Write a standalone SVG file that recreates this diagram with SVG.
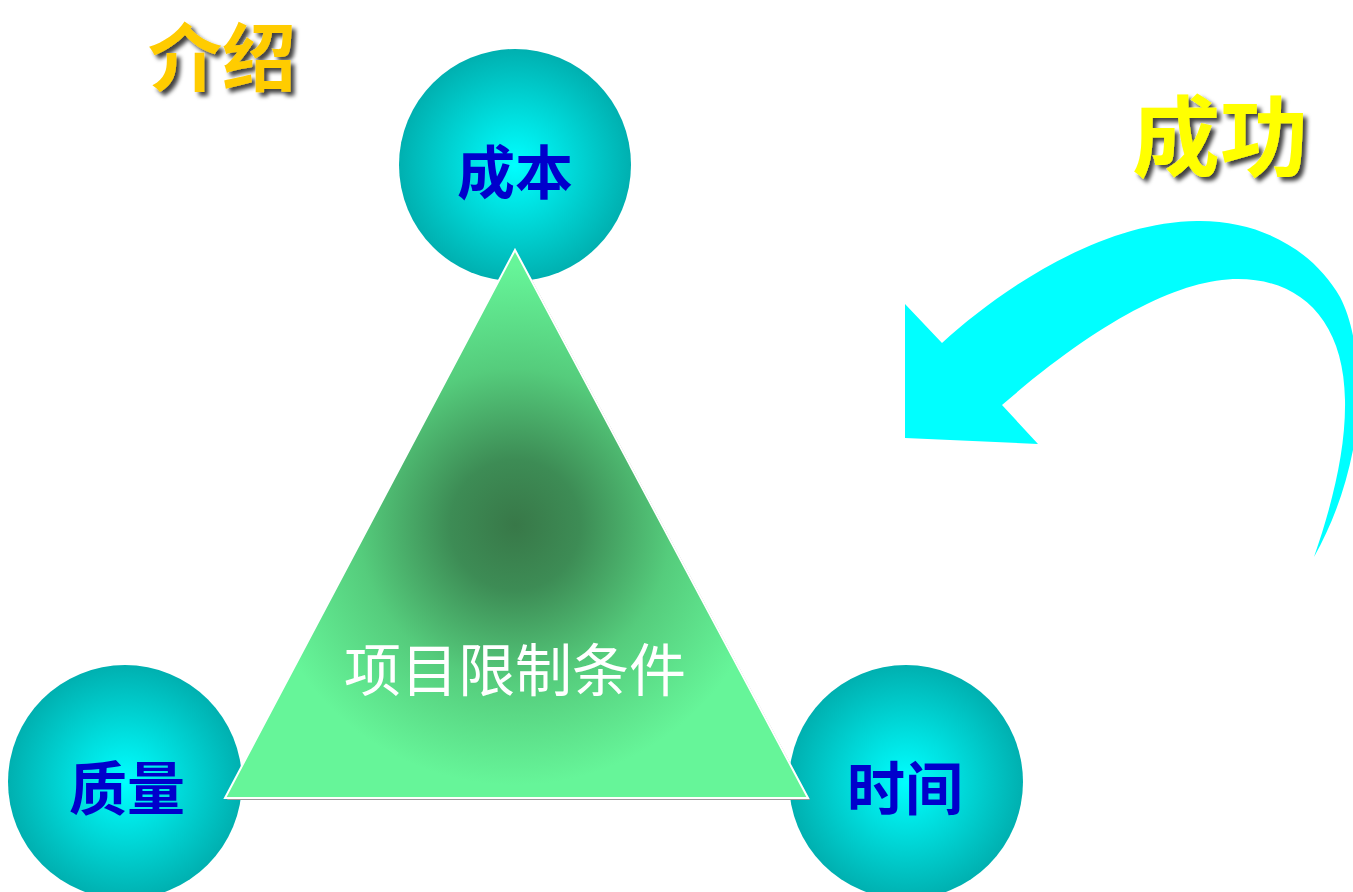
<svg xmlns="http://www.w3.org/2000/svg" width="1353" height="892" viewBox="0 0 1353 892">
<style>
.lbl{font-family:"Noto Sans CJK SC","Noto Sans CJK JP",sans-serif;text-anchor:middle;dominant-baseline:central}
.node{font-size:58px;font-weight:bold;fill:#0000cc}
.title{font-weight:bold}
</style>
<defs>
<radialGradient id="ball" cx="0.5" cy="0.5" r="0.5">
<stop offset="0" stop-color="#00ffff"/>
<stop offset="0.4" stop-color="#00e0e0"/>
<stop offset="1" stop-color="#00b0b0"/>
</radialGradient>
<radialGradient id="tri" gradientUnits="userSpaceOnUse" cx="515" cy="525" r="260">
<stop offset="0" stop-color="#387848"/>
<stop offset="0.25" stop-color="#3d8c55"/>
<stop offset="0.6" stop-color="#55cc7c"/>
<stop offset="1" stop-color="#66f599"/>
</radialGradient>
<filter id="shadow" x="-20%" y="-20%" width="150%" height="150%">
<feDropShadow dx="4" dy="4" stdDeviation="2" flood-color="#000" flood-opacity="0.75"/>
</filter>
</defs>
<rect width="1353" height="892" fill="#fff"/>

<g id="arrow">
<path d="M905,304 L942,343 C1000,290 1100,222 1197,221 C1260,220 1313,250 1340,297 C1360,335 1362,400 1353,450 C1345,490 1332,525 1314,557 C1332,505 1346,450 1345,400 C1344,320 1300,279 1238,279 C1180,279 1100,320 1002,405 L1038,444 L905,438 Z" fill="#00ffff"/>
</g>

<g id="title-intro"><text class="lbl title" x="222" y="52" font-size="74" fill="#ffcc00" filter="url(#shadow)">介绍</text></g>
<g id="title-success"><text class="lbl title" x="1220" y="130" font-size="88" fill="#ffff00" filter="url(#shadow)">成功</text></g>

<g id="node-cost">
<circle cx="515" cy="165" r="116" fill="url(#ball)"/>
<text class="lbl node" x="515" y="169">成本</text>
</g>
<g id="node-quality">
<circle cx="125" cy="782" r="117" fill="url(#ball)"/>
<text class="lbl node" x="127" y="785">质量</text>
</g>
<g id="node-time">
<circle cx="906" cy="782" r="117" fill="url(#ball)"/>
<text class="lbl node" x="905" y="785">时间</text>
</g>

<g id="node-constraints">
<polygon points="517,252 810,800 227,800" fill="#999"/>
<polygon points="515,250 808,798 225,798" fill="url(#tri)" stroke="#fff" stroke-width="2"/>
<text class="lbl" x="515" y="666" font-size="57" fill="#fff">项目限制条件</text>
</g>
</svg>
